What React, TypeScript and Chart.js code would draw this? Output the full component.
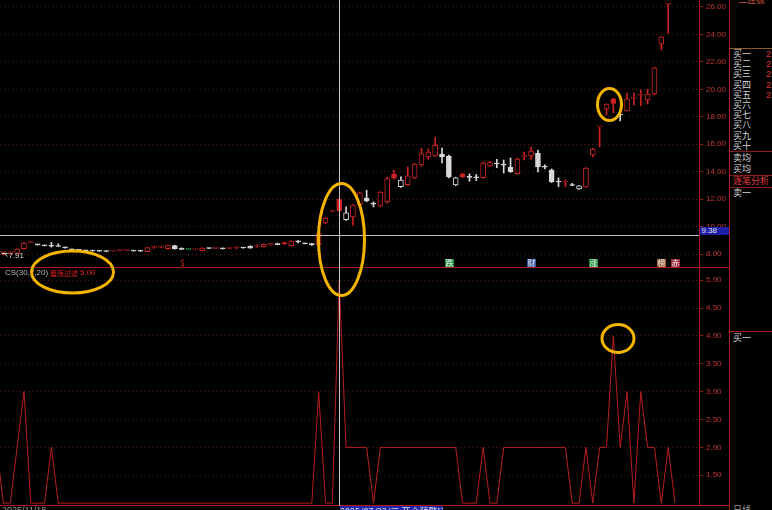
import React, { useEffect, useRef } from 'react';
import { Chart, registerables } from 'chart.js';

Chart.register(...registerables);

// ---------------- data ----------------
const OPEN = [8.12, 8.05, 8.05, 8.38, 8.82, 8.68, 8.62, 8.58, 8.56, 8.47,
  8.32, 8.28, 8.25, 8.23, 8.21, 8.19, 8.22, 8.24, 8.26, 8.24,
  8.21, 8.17, 8.48, 8.50, 8.38, 8.62, 8.35, 8.34, 8.35, 8.24,
  8.41, 8.41, 8.39, 8.40, 8.44, 8.45, 8.56, 8.55, 8.52, 8.70,
  8.69, 8.84, 8.60, 8.90, 8.77, 8.70, 8.68, 10.27, 11.10, 12.01,
  10.50, 10.70, 11.60, 12.08, 11.66, 11.50, 11.79, 13.85, 12.90, 13.05,
  13.55, 14.50, 15.07, 15.14, 15.29, 15.14, 13.03, 13.83, 13.60, 13.58,
  13.56, 14.42, 14.58, 14.50, 14.34, 13.85, 15.10, 15.15, 15.36, 14.36,
  14.12, 13.27, 13.25, 13.00, 12.74, 12.88, 15.22, 17.26, 18.57, 19.30,
  18.15, 18.42, 19.35, 19.57, 19.22, 19.66, 23.31, 26.20];
const HIGH = [8.20, 8.18, 8.40, 8.85, 8.90, 8.70, 8.64, 8.85, 8.75, 8.50,
  8.35, 8.30, 8.28, 8.26, 8.24, 8.22, 8.27, 8.28, 8.30, 8.26,
  8.23, 8.48, 8.58, 8.60, 8.64, 8.64, 8.45, 8.35, 8.37, 8.46,
  8.43, 8.44, 8.42, 8.44, 8.54, 8.47, 8.60, 8.66, 8.72, 8.78,
  8.80, 8.86, 8.98, 8.98, 8.80, 8.78, 9.60, 10.65, 11.10, 12.05,
  11.43, 11.60, 12.50, 12.65, 11.80, 12.55, 13.60, 14.12, 13.62, 14.34,
  14.60, 15.70, 15.65, 16.50, 15.72, 15.20, 13.60, 13.90, 13.85, 13.80,
  14.70, 14.75, 14.90, 14.85, 15.00, 15.00, 15.43, 15.80, 15.58, 14.50,
  14.20, 13.55, 13.40, 13.15, 12.98, 14.30, 15.70, 17.26, 18.95, 19.35,
  18.50, 19.73, 19.73, 19.95, 20.00, 21.60, 23.85, 26.20];
const LOW = [7.91, 8.00, 8.00, 8.35, 8.82, 8.64, 8.58, 8.50, 8.55, 8.42,
  8.28, 8.24, 8.20, 8.20, 8.18, 8.16, 8.20, 8.22, 8.24, 8.20,
  8.18, 8.15, 8.40, 8.44, 8.36, 8.35, 8.33, 8.33, 8.33, 8.22,
  8.38, 8.39, 8.36, 8.38, 8.38, 8.42, 8.42, 8.50, 8.50, 8.64,
  8.67, 8.70, 8.58, 8.80, 8.73, 8.62, 8.65, 10.20, 11.10, 11.10,
  10.45, 10.11, 11.50, 11.80, 11.43, 11.45, 11.70, 13.45, 12.85, 13.00,
  13.50, 14.40, 14.90, 15.10, 14.63, 13.55, 12.98, 13.58, 13.30, 13.35,
  13.50, 14.38, 14.30, 13.90, 13.95, 13.80, 14.85, 14.90, 13.98, 14.20,
  13.20, 12.90, 12.88, 12.98, 12.70, 12.85, 15.07, 15.80, 18.13, 18.28,
  17.70, 18.40, 18.86, 18.80, 18.93, 19.60, 22.87, 24.10];
const CLOSE = [8.12, 8.15, 8.36, 8.80, 8.82, 8.66, 8.60, 8.57, 8.55, 8.45,
  8.30, 8.26, 8.24, 8.22, 8.20, 8.18, 8.24, 8.26, 8.28, 8.22,
  8.20, 8.46, 8.50, 8.52, 8.62, 8.38, 8.34, 8.34, 8.36, 8.44,
  8.40, 8.42, 8.38, 8.42, 8.46, 8.44, 8.43, 8.58, 8.70, 8.72,
  8.68, 8.74, 8.95, 8.88, 8.75, 8.68, 9.53, 10.62, 11.10, 11.16,
  11.00, 11.57, 12.45, 11.86, 11.64, 12.52, 13.50, 13.52, 13.38, 13.69,
  14.56, 15.30, 15.43, 15.92, 15.07, 13.61, 13.55, 13.60, 13.58, 13.56,
  14.63, 14.66, 14.56, 14.48, 13.98, 14.92, 15.14, 15.50, 14.34, 14.33,
  13.28, 13.25, 13.27, 12.99, 12.96, 14.27, 15.65, 17.26, 18.93, 18.97,
  18.13, 19.30, 19.37, 19.59, 19.66, 21.56, 23.82, 26.20];

// CS(30,7,20) indicator, first value belongs to bar -1 (just left of the window)
const CS_FIRST_BAR = -1;
const CS_VALUES = [2,
  1, 1, 2, 3, 1, 1, 1, 2, 1,
  1, 1, 1, 1, 1, 1, 1, 1, 1, 1, 1, 1, 1, 1, 1, 1, 1, 1, 1, 1, 1, 1, 1, 1, 1, 1, 1, 1, 1, 1, 1, 1, 1, 1, 1, 1, 1,
  3, 1, 1, 5,
  2, 2, 2, 2,
  1,
  2, 2, 2, 2, 2, 2, 2, 2, 2, 2, 2, 2,
  1, 1, 1,
  2, 1, 1,
  2, 2, 2, 2, 2, 2, 2, 2, 2, 2,
  1, 1, 2, 1, 2, 2, 4, 2, 3, 1, 3, 2, 2, 1, 2, 1];

const PRICE_TICKS = [8, 10, 12, 14, 16, 18, 20, 22, 24, 26];
const CS_TICKS = [1.5, 2, 2.5, 3, 3.5, 4, 4.5, 5];
const SLOT_COUNT = 102;
const CURSOR_BAR = 49;
const CURSOR_PRICE = 9.38;
const EVENT_BARS = [26, 65, 77, 86, 96, 98];
const EVENT_TAGS = ['$', '跌', '财', '涨', '榜', '赤'];
const BID_LEVELS = ['买一', '买二', '买三', '买四', '买五', '买六', '买七', '买八', '买九', '买十'];
const BID_PRICES = ['21.10', '21.09', '21.08', '21.07', '21.06'];

// ---------------- styles ----------------
const RED = '#cc2222';
const WHITE = '#d8d8d8';
const GREEN = '#2aa84a';
const CS_RED = '#b81e1e';
const FRAME = '#a81c1c';
const GRID = '#561414';
const LABEL = '#c43434';
const EVENT_BG: Record<string, string> = { '跌': '#1f8f3f', '财': '#3352a0', '涨': '#1f8f3f', '榜': '#9a5a2e', '赤': '#9c2a3c' };
const ANNOTATIONS = [
  { axis: 'y2', bar: 10.08, value: 5.149, rx: 41, ry: 21 },
  { axis: 'y', bar: 49.33, value: 9.057, rx: 23, ry: 56 },
  { axis: 'y', bar: 88.44, value: 18.895, rx: 12, ry: 16 },
  { axis: 'y2', bar: 89.68, value: 3.955, rx: 16, ry: 14 },
];

const BARS = OPEN.map((_, i) => i);
const prevClose = (i: number) => (i === 0 ? -Infinity : CLOSE[i - 1]);
const colorOf = (i: number) => (CLOSE[i] > prevClose(i) ? RED : CLOSE[i] < prevClose(i) ? WHITE : GREEN);

const overlayPlugin = {
  id: 'tdxOverlay',
  afterDraw(chart: any) {
    const { ctx, chartArea, scales } = chart;
    const xs = scales.x, yp = scales.y, yc = scales.y2;
    const px = (b: number) => xs.getPixelForValue(b);
    ctx.save();
    // frame lines
    ctx.strokeStyle = FRAME;
    ctx.lineWidth = 1;
    ctx.beginPath();
    const sepY = Math.round(yp.bottom) + 0.5;
    ctx.moveTo(0, sepY); ctx.lineTo(chart.width, sepY);
    const botY = Math.round(chartArea.bottom) - 0.5;
    ctx.moveTo(0, botY); ctx.lineTo(chart.width, botY);
    const axX = Math.round(chartArea.right) + 0.5;
    ctx.moveTo(axX, 0); ctx.lineTo(axX, chartArea.bottom);
    ctx.stroke();

    // event markers
    ctx.textAlign = 'center';
    ctx.textBaseline = 'middle';
    ctx.font = '8px "Noto Sans CJK SC"';
    EVENT_BARS.forEach((b, k) => {
      const tag = EVENT_TAGS[k];
      const x = Math.round(px(b));
      const y = Math.round(yp.bottom) - 4;
      const bg = EVENT_BG[tag];
      if (bg) {
        ctx.fillStyle = bg;
        ctx.fillRect(x - 4, y - 4, 9, 8);
      }
      ctx.fillStyle = bg ? '#f2f2f2' : '#e02828';
      ctx.fillText(tag, x + 0.5, y);
    });

    // lowest price label
    let lowIdx = 0;
    LOW.forEach((v, i) => { if (v < LOW[lowIdx]) lowIdx = i; });
    const lx = px(lowIdx), ly = yp.getPixelForValue(LOW[lowIdx]);
    ctx.strokeStyle = '#cfcfcf';
    ctx.beginPath();
    ctx.moveTo(lx - 2, Math.round(ly) - 1.5); ctx.lineTo(lx + 4, Math.round(ly) - 1.5);
    ctx.moveTo(lx + 1, Math.round(ly) - 1.5); ctx.lineTo(lx + 4, Math.round(ly) + 1.5);
    ctx.stroke();
    ctx.fillStyle = '#cfcfcf';
    ctx.textAlign = 'left';
    ctx.font = '8px "Liberation Sans"';
    ctx.fillText(LOW[lowIdx].toFixed(2), lx + 5, ly + 1);

    // indicator title
    const ty = Math.round(yc.top) + 6;
    ctx.fillStyle = '#b4b4b4';
    ctx.font = '8px "Liberation Sans"';
    ctx.fillText('CS(30,7,20)', 5, ty);
    ctx.fillStyle = '#e02020';
    ctx.font = '7px "Noto Sans CJK SC"';
    ctx.fillText('震荡过滤', 50, ty);
    ctx.font = '8px "Liberation Sans"';
    ctx.fillText(CS_VALUES[CURSOR_BAR - CS_FIRST_BAR].toFixed(2), 80, ty);

    // crosshair
    const cx = Math.round(px(CURSOR_BAR)) + 0.5;
    const cy = Math.round(yp.getPixelForValue(CURSOR_PRICE)) + 0.5;
    ctx.strokeStyle = '#c4c4c4';
    ctx.beginPath();
    ctx.moveTo(cx, 0); ctx.lineTo(cx, chartArea.bottom);
    ctx.moveTo(0, cy); ctx.lineTo(chartArea.right, cy);
    ctx.stroke();
    ctx.fillStyle = '#1e1ea6';
    ctx.fillRect(axX + 0.5, cy - 8.5, 29, 8);
    ctx.fillStyle = '#e6e6e6';
    ctx.textBaseline = 'middle';
    ctx.fillText(CURSOR_PRICE.toFixed(2), axX + 2, cy - 4.5);

    // annotations
    ctx.strokeStyle = '#f4b400';
    ctx.lineWidth = 3;
    ANNOTATIONS.forEach(a => {
      const ax = a.axis === 'y2' ? yc : yp;
      ctx.beginPath();
      ctx.ellipse(px(a.bar), ax.getPixelForValue(a.value), a.rx, a.ry, 0, 0, Math.PI * 2);
      ctx.stroke();
    });
    ctx.restore();
  },
};

function axisFit(scale: any) {
  scale.width = 30;
  scale.paddingTop = 0;
  scale.paddingBottom = 0;
}

const tickFont = { family: 'Liberation Sans', size: 8 };

export default function App() {
  const ref = useRef<HTMLCanvasElement>(null);
  useEffect(() => {
    document.body.style.margin = '0';
    document.body.style.background = '#000';
    const chart = new Chart(ref.current as HTMLCanvasElement, {
      type: 'bar',
      data: {
        datasets: [
          {
            type: 'bar',
            label: 'body',
            order: 0,
            xAxisID: 'x',
            yAxisID: 'y',
            data: BARS.map(i => ({ x: i, y: [OPEN[i], CLOSE[i]] })) as any,
            backgroundColor: BARS.map(i => (CLOSE[i] >= OPEN[i] ? '#000000' : colorOf(i))),
            borderColor: BARS.map(colorOf),
            borderWidth: 1,
            borderSkipped: false,
            barThickness: 5,
            minBarLength: 1,
            grouped: false,
          } as any,
          {
            type: 'bar',
            label: 'wick',
            order: 1,
            xAxisID: 'x',
            yAxisID: 'y',
            data: BARS.map(i => ({ x: i, y: [LOW[i], HIGH[i]] })) as any,
            backgroundColor: BARS.map(colorOf),
            borderWidth: 0,
            barThickness: 1,
            minBarLength: 1,
            grouped: false,
          } as any,
          {
            type: 'line',
            label: 'CS',
            order: 2,
            xAxisID: 'x',
            yAxisID: 'y2',
            data: CS_VALUES.map((v, k) => ({ x: k + CS_FIRST_BAR, y: v })) as any,
            borderColor: CS_RED,
            borderWidth: 1,
            pointRadius: 0,
            tension: 0,
            fill: false,
          } as any,
        ],
      },
      options: {
        animation: false,
        responsive: true,
        maintainAspectRatio: false,
        devicePixelRatio: 1,
        events: [],
        layout: { padding: 0 },
        plugins: { legend: { display: false }, tooltip: { enabled: false } },
        scales: {
          x: { type: 'linear', min: -0.5, max: SLOT_COUNT - 0.5, display: false, offset: false },
          y: {
            type: 'linear',
            position: 'right',
            stack: 'panes',
            stackWeight: 267,
            min: 7.053,
            max: 26.51,
            afterBuildTicks: (s: any) => { s.ticks = PRICE_TICKS.map(v => ({ value: v })); },
            afterFit: axisFit,
            ticks: { color: LABEL, font: tickFont, padding: 3, autoSkip: false, callback: (v: any) => Number(v).toFixed(2) },
            grid: { color: GRID, tickColor: FRAME, tickLength: 4, drawTicks: true },
            border: { display: false, dash: [1, 3] },
          },
          y2: {
            type: 'linear',
            position: 'right',
            stack: 'panes',
            stackWeight: 239,
            min: 0.9485,
            max: 5.2385,
            afterBuildTicks: (s: any) => { s.ticks = CS_TICKS.map(v => ({ value: v })); },
            afterFit: axisFit,
            ticks: { color: LABEL, font: tickFont, padding: 3, autoSkip: false, callback: (v: any) => Number(v).toFixed(2) },
            grid: { color: GRID, tickColor: FRAME, tickLength: 4, drawTicks: true },
            border: { display: false, dash: [1, 3] },
          },
        } as any,
      },
      plugins: [overlayPlugin],
    } as any);
    return () => chart.destroy();
  }, []);

  const cjk = '"Noto Sans CJK SC", sans-serif';
  const rowTop = (k: number) => 54 + k * 10.2 - 6;
  const line = (y: number, color: string) => (
    <div style={{ position: 'absolute', left: 0, width: 43, top: y, height: 1, background: color }} />
  );
  const txt = (label: string, top: number, color = '#d6d6d6', left = 3) => (
    <div style={{ position: 'absolute', left, top, fontSize: 9, lineHeight: '12px', color, whiteSpace: 'nowrap', fontFamily: cjk }}>{label}</div>
  );

  return (
    <div style={{ position: 'fixed', left: 0, top: 0, width: 772, height: 510, background: '#000', overflow: 'hidden' }}>
      <div style={{ position: 'absolute', left: 0, top: 0, width: 729, height: 506 }}>
        <canvas ref={ref} />
      </div>
      {/* bottom strip */}
      <div style={{ position: 'absolute', left: 2, top: 505, fontSize: 9, lineHeight: '10px', color: '#9a9a9a', fontFamily: 'Liberation Sans', whiteSpace: 'nowrap' }}>2025/11/18</div>
      <div style={{ position: 'absolute', left: 340, top: 506, width: 103, height: 4, background: '#2424a8', overflow: 'hidden' }}>
        <div style={{ fontSize: 9, lineHeight: '10px', color: '#e0e0e0', fontFamily: cjk, whiteSpace: 'nowrap', marginTop: 1 }}>2025/07/22/二 开仓预警[11.76%]</div>
      </div>
      {/* right side panel */}
      <div style={{ position: 'absolute', left: 729, top: 0, width: 43, height: 510, borderLeft: `1px solid ${FRAME}`, overflow: 'hidden' }}>
        {txt('二连板', -6, '#c8583a', 8)}
        {line(48, '#8c5a2c')}
        {BID_LEVELS.map((b, k) => <React.Fragment key={b}>{txt(b, rowTop(k))}</React.Fragment>)}
        {BID_PRICES.map((p, k) => (
          <div key={p} style={{ position: 'absolute', left: 36, top: rowTop(k), fontSize: 9, lineHeight: '12px', color: '#e03030', fontFamily: 'Liberation Sans', whiteSpace: 'nowrap' }}>{p}</div>
        ))}
        {line(151, '#8c1c1c')}
        {txt('卖均', 152)}
        {txt('买均', 163)}
        {line(175, '#8c1c1c')}
        {txt('逐笔分析', 175, '#e03c3c')}
        {line(187, '#8c1c1c')}
        {txt('卖一', 187)}
        {line(331, '#a01c1c')}
        {txt('买一', 332)}
        {txt('日线', 504, '#9a9a9a', 3)}
      </div>
    </div>
  );
}
